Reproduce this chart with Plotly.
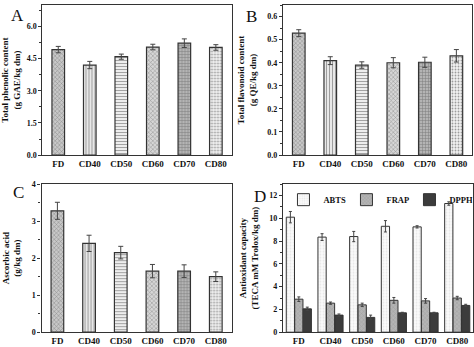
import plotly.graph_objects as go

categories = ["FD", "CD40", "CD50", "CD60", "CD70", "CD80"]

phenolic = [4.92, 4.20, 4.59, 5.04, 5.22, 5.02]
phenolic_err = [0.15, 0.17, 0.12, 0.13, 0.20, 0.13]

flavonoid = [0.528, 0.409, 0.390, 0.400, 0.402, 0.430]
flavonoid_err = [0.015, 0.017, 0.014, 0.022, 0.022, 0.027]

ascorbic = [3.28, 2.40, 2.15, 1.65, 1.65, 1.50]
ascorbic_err = [0.23, 0.22, 0.17, 0.18, 0.17, 0.13]

abts = [10.10, 8.35, 8.40, 9.30, 9.25, 11.30]
abts_err = [0.50, 0.30, 0.45, 0.50, 0.10, 0.15]
frap = [2.90, 2.55, 2.40, 2.80, 2.75, 3.00]
frap_err = [0.20, 0.10, 0.15, 0.25, 0.20, 0.15]
dpph = [2.05, 1.50, 1.30, 1.70, 1.70, 2.35]
dpph_err = [0.15, 0.10, 0.20, 0.05, 0.05, 0.10]

FONT = "Liberation Serif"

# per-sample fill patterns for the single-series panels
pat_shape = ["x", "|", "-", "x", "+", "."]
pat_fg = ["#767676", "#a0a0a0", "#acacac", "#848484", "#646464", "#bcbcbc"]
pat_bg = ["#c8c8c8", "#e8e8e8", "#eeeeee", "#d6d6d6", "#b4b4b4", "#f2f2f2"]

fig = go.Figure()


def single_bars(y, err, xa, ya):
    fig.add_trace(go.Bar(
        x=categories, y=y, xaxis=xa, yaxis=ya, width=0.4, showlegend=False,
        marker=dict(color=pat_bg, line=dict(color="#333333", width=1.2),
                    pattern=dict(shape=pat_shape, fgcolor=pat_fg, bgcolor=pat_bg,
                                 size=3, solidity=0.3)),
        error_y=dict(type="data", array=err, color="#444444", thickness=1, width=2.5),
    ))


single_bars(phenolic, phenolic_err, "x", "y")
single_bars(flavonoid, flavonoid_err, "x2", "y2")
single_bars(ascorbic, ascorbic_err, "x3", "y3")

groups = [
    ("ABTS", abts, abts_err, "#fafafa", "#d4d4d4", "."),
    ("FRAP", frap, frap_err, "#b4b4b4", "#8c8c8c", "x"),
    ("DPPH", dpph, dpph_err, "#3c3c3c", "#2c2c2c", ""),
]
for name, y, err, bg, fg, shp in groups:
    fig.add_trace(go.Bar(
        x=categories, y=y, name=f"<b>{name}</b>", xaxis="x4", yaxis="y4", width=0.26,
        marker=dict(color=bg, line=dict(color="#333333", width=1),
                    pattern=dict(shape=shp, fgcolor=fg, bgcolor=bg, size=3, solidity=0.3)),
        error_y=dict(type="data", array=err, color="#444444", thickness=1, width=1.5),
    ))

tickfont = dict(family=FONT, size=9, color="#111111")
titlefont = dict(family=FONT, size=9, color="#111111")


def xaxis(domain, anchor):
    return dict(domain=domain, anchor=anchor, showline=True, linecolor="#333333",
                linewidth=1.2, mirror=True, ticks="", tickfont=tickfont,
                showgrid=False, zeroline=False,
                tickvals=categories, ticktext=[f"<b>{c}</b>" for c in categories])


def yaxis(domain, anchor, rng, dtick, minor, title, fmt):
    return dict(domain=domain, anchor=anchor, range=rng, dtick=dtick, tick0=0,
                tickformat=fmt, tickprefix="<b>", ticksuffix="</b>",
                showline=True, linecolor="#333333", linewidth=1.2,
                mirror=True, ticks="outside", ticklen=3, tickcolor="#333333",
                minor=dict(dtick=minor, ticks="outside", ticklen=2, tickcolor="#333333"),
                tickfont=dict(family=FONT, size=8, color="#111111"),
                showgrid=False, zeroline=False,
                title=dict(text=title, font=titlefont, standoff=9))


fig.update_layout(
    width=474, height=347, margin=dict(l=0, r=0, t=0, b=0),
    paper_bgcolor="white", plot_bgcolor="white",
    font=dict(family=FONT, color="#111111"),
    barmode="group", bargap=0.2, bargroupgap=0,
    xaxis=xaxis([0.076, 0.481], "y"),
    yaxis=yaxis([0.553, 0.997], "x", [0, 7], 1.5, 0.75,
                "<b>Total phenolic content<br>(g GAE/kg dm)</b>", ".1f"),
    xaxis2=xaxis([0.591, 0.996], "y2"),
    yaxis2=yaxis([0.553, 0.997], "x2", [0, 0.65], 0.1, 0.05,
                 "<b>Total flavonoid content<br>(g QE/kg dm)</b>", ".1f"),
    xaxis3=xaxis([0.074, 0.481], "y3"),
    yaxis3=yaxis([0.029, 0.467], "x3", [0, 4], 1, 0.5,
                 "<b>Ascorbic acid<br>(g/kg dm)</b>", "d"),
    xaxis4=xaxis([0.591, 0.998], "y4"),
    yaxis4=yaxis([0.029, 0.467], "x4", [0, 13], 2, 1,
                 "<b>Antioxidant capacity<br>(TECA mM Trolox/kg dm)</b>", "d"),
    legend=dict(orientation="h", x=0.592, y=0.464, xanchor="left", yanchor="top",
                font=dict(family=FONT, size=8.5, color="#111111"),
                bgcolor="rgba(0,0,0,0)", itemwidth=30,
                entrywidth=18, entrywidthmode="pixels"),
)

for label, xp, yp in [("A", 0.005, 1.0), ("B", 0.508, 0.998), ("C", 0.008, 0.475), ("D", 0.525, 0.465)]:
    fig.add_annotation(text=label, xref="paper", yref="paper", x=xp, y=yp,
                       xanchor="left", yanchor="top", showarrow=False,
                       font=dict(family=FONT, size=17, color="#111111"))

fig.write_html("out.html")
